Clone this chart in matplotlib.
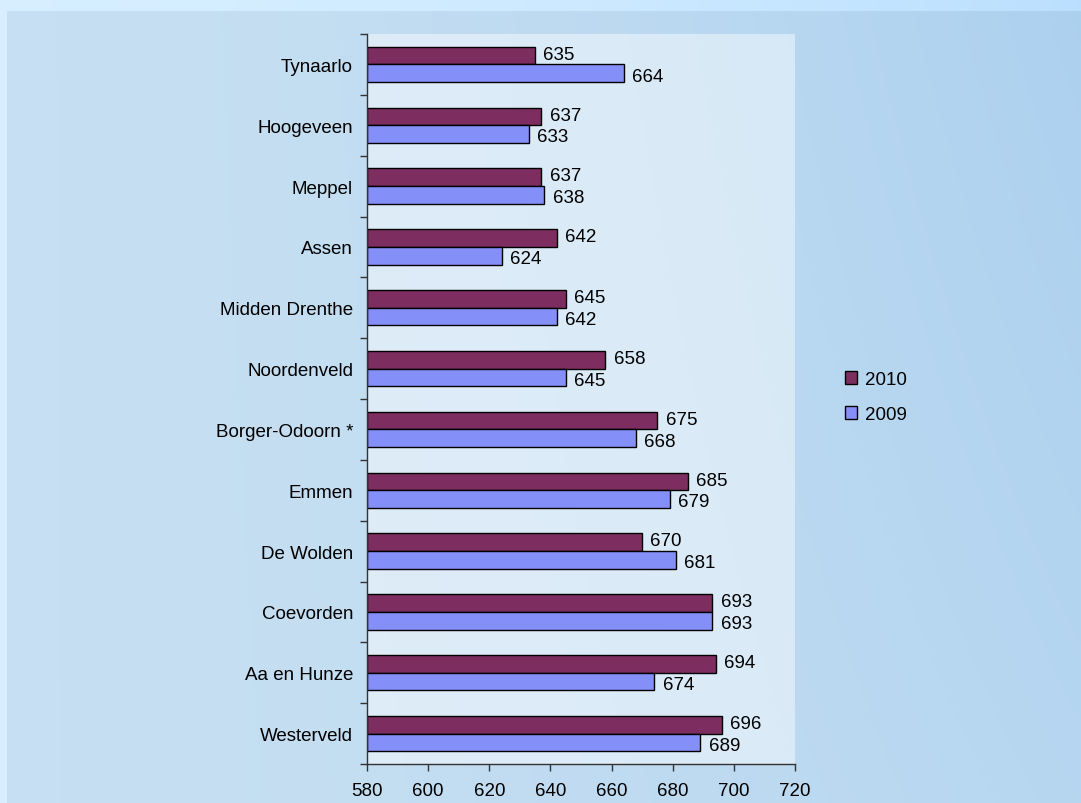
import numpy as np
import matplotlib
matplotlib.use("Agg")
import matplotlib.pyplot as plt

categories = ["Tynaarlo", "Hoogeveen", "Meppel", "Assen", "Midden Drenthe", "Noordenveld",
              "Borger-Odoorn *", "Emmen", "De Wolden", "Coevorden", "Aa en Hunze", "Westerveld"]
values_2010 = [635, 637, 637, 642, 645, 658, 675, 685, 670, 693, 694, 696]
values_2009 = [664, 633, 638, 624, 642, 645, 668, 679, 681, 693, 674, 689]
series_names = ["2010", "2009"]
x_ticks = [580, 600, 620, 640, 660, 680, 700, 720]

plt.rcParams['font.family'] = ['Liberation Sans', 'DejaVu Sans']
FS = 13.5

W, H = 1081, 804
fig = plt.figure(figsize=(W / 100, H / 100), dpi=100)

# background decoration
bg = fig.add_axes([0, 0, 1, 1])
bg.set_axis_off()
yy, xx = np.mgrid[0:H, 0:W]
u = xx / W
v = yy / H
c1 = np.array([0.78, 0.875, 0.95])
c2 = np.array([0.66, 0.81, 0.935])
t = np.clip(0.55 * u ** 1.5 + 0.35 * (1 - v) * u ** 2, 0, 1)[..., None]
img = c1 * (1 - t) + c2 * t
outer = ((xx < 7) | (yy < 12))[..., None]
img = np.where(outer, img + 0.06, img)
img = np.clip(img, 0, 1)
bg.imshow(img, extent=[0, 1, 0, 1], aspect='auto', origin='upper')
bg.set_xlim(0, 1)
bg.set_ylim(0, 1)

left, right, top, bottom = 367, 795, 35, 765
ax = fig.add_axes([left / W, 1 - bottom / H, (right - left) / W, (bottom - top) / H])
ax.set_facecolor((1, 1, 1, 0.45))

col2010 = "#7d2d60"
col2009 = "#8490f8"
y = np.arange(len(categories))
h = 0.29
base = x_ticks[0]
b1 = ax.barh(y - h / 2, np.array(values_2010) - base, left=base, height=h,
             color=col2010, edgecolor="black", linewidth=1, label=series_names[0])
b2 = ax.barh(y + h / 2, np.array(values_2009) - base, left=base, height=h,
             color=col2009, edgecolor="black", linewidth=1, label=series_names[1])

for yi, v10, v09 in zip(y, values_2010, values_2009):
    ax.annotate(str(v10), (v10, yi - h / 2), xytext=(6, 1), textcoords="offset points",
                va="center", ha="left", fontsize=FS)
    ax.annotate(str(v09), (v09, yi + h / 2), xytext=(6, -2), textcoords="offset points",
                va="center", ha="left", fontsize=FS)

ax.set_xlim(580, 720)
ax.set_ylim(len(categories) - 0.5, -0.5)
ax.set_xticks(x_ticks)
ax.set_xticklabels([str(t) for t in x_ticks], fontsize=FS)
ax.set_yticks(y)
ax.set_yticklabels(categories, fontsize=FS)
ax.set_yticks(np.arange(len(categories) + 1) - 0.5, minor=True)
ax.tick_params(axis='y', which='major', length=0, pad=10)
ax.tick_params(axis='y', which='minor', length=5, width=1, color="#333333")
ax.tick_params(axis='x', which='major', length=5, width=1, color="#333333", pad=8)
for s in ["top", "right"]:
    ax.spines[s].set_visible(False)
for s in ["left", "bottom"]:
    ax.spines[s].set_color("#333333")
    ax.spines[s].set_linewidth(1)

leg = fig.legend(handles=[b1, b2], labels=series_names, loc="center left",
                 bbox_to_anchor=(828 / W, 1 - 398 / H), frameon=False, fontsize=FS,
                 handlelength=0.65, handleheight=0.65, handletextpad=0.4, labelspacing=0.95)

fig.savefig("out.png", dpi=100)
